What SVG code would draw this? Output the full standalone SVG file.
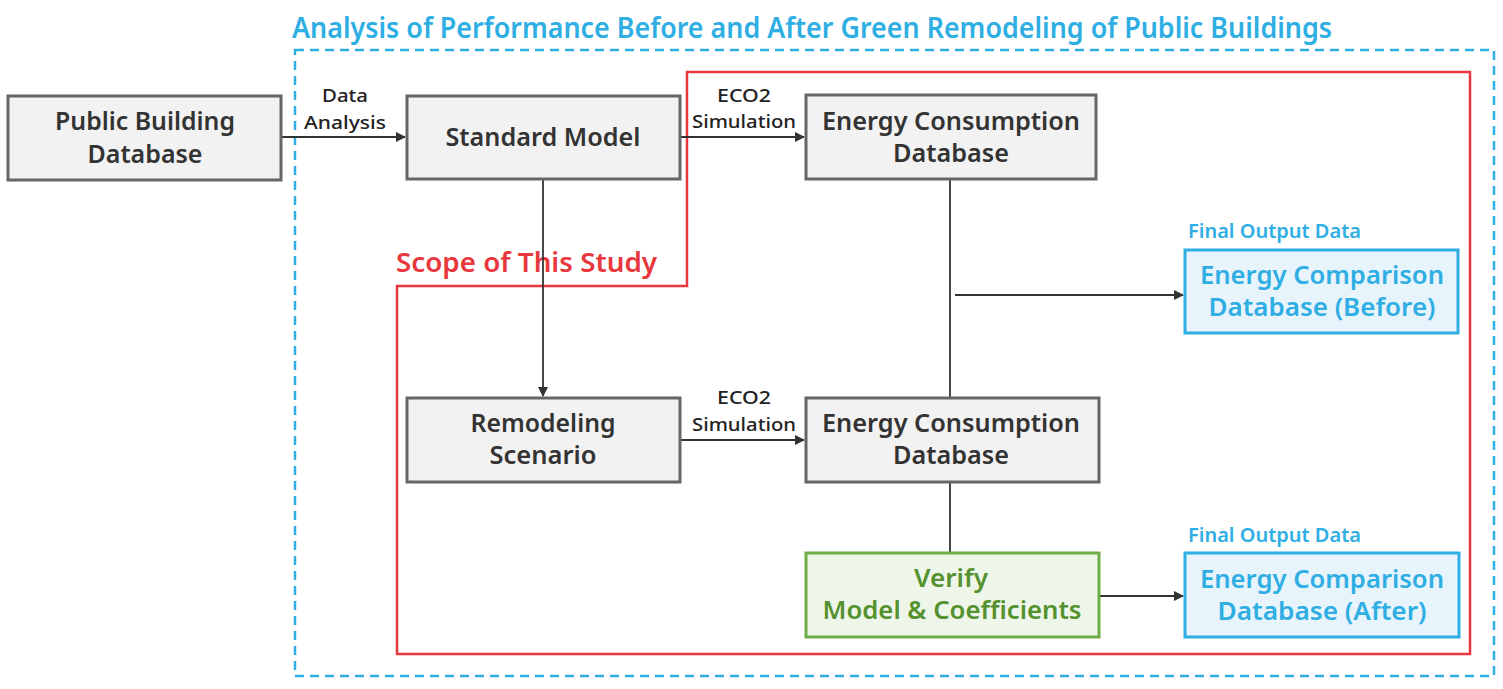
<svg xmlns="http://www.w3.org/2000/svg" width="1503" height="689" viewBox="0 0 1503 689">
<defs>
<marker id="arr" markerWidth="10" markerHeight="10" refX="9" refY="5" orient="auto" markerUnits="userSpaceOnUse">
<path d="M0,0 L10,5 L0,10 Z" fill="#333"/>
</marker>
<style>
text{font-family:"Noto Sans","DejaVu Sans",sans-serif;text-anchor:middle;font-weight:600}
.box{fill:#f2f2f2;stroke:#666;stroke-width:3}
.green{fill:#eef6e9;stroke:#6fac46;stroke-width:3}
.blue{fill:#e8f4fc;stroke:#2eaee3;stroke-width:3}
.t{font-size:25px;fill:#333}
.tg{font-size:25px;fill:#55912e}
.tb{font-size:25px;fill:#2eaee3}
.lbl{font-size:18px;fill:#222;font-weight:500}
.fo{font-size:19px;fill:#2eaee3;text-anchor:start}
.ln{stroke:#333;stroke-width:1.8;fill:none}
</style>
</defs>
<rect width="1503" height="689" fill="#fff"/>
<text x="292" y="38" style="font-size:28px;fill:#2eaee3;text-anchor:start" textLength="1040" lengthAdjust="spacingAndGlyphs">Analysis of Performance Before and After Green Remodeling of Public Buildings</text>
<rect x="295" y="50" width="1199" height="626" fill="none" stroke="#2eaee3" stroke-width="2.5" stroke-dasharray="9,6"/>
<path d="M687,286 L687,72 L1470,72 L1470,654 L397,654 L397,286 Z" fill="none" stroke="#e8383d" stroke-width="2.5"/>
<text x="396" y="272" style="font-size:27px;fill:#e8383d;text-anchor:start" textLength="261" lengthAdjust="spacingAndGlyphs">Scope of This Study</text>

<g id="connectors">
<line class="ln" x1="281" y1="137" x2="405" y2="137" marker-end="url(#arr)"/>
<line class="ln" x1="680" y1="137" x2="804" y2="137" marker-end="url(#arr)"/>
<line class="ln" x1="543" y1="179" x2="543" y2="396" marker-end="url(#arr)"/>
<line class="ln" x1="680" y1="440" x2="804" y2="440" marker-end="url(#arr)"/>
<line class="ln" x1="950" y1="179" x2="950" y2="398"/>
<line class="ln" x1="955" y1="295" x2="1183" y2="295" marker-end="url(#arr)"/>
<line class="ln" x1="950" y1="482" x2="950" y2="553"/>
<line class="ln" x1="1099" y1="596" x2="1183" y2="596" marker-end="url(#arr)"/>
<text class="lbl" x="345" y="102" textLength="46" lengthAdjust="spacingAndGlyphs">Data</text>
<text class="lbl" x="345" y="129" textLength="82" lengthAdjust="spacingAndGlyphs">Analysis</text>
<text class="lbl" x="744" y="102" textLength="54" lengthAdjust="spacingAndGlyphs">ECO2</text>
<text class="lbl" x="744" y="128" textLength="104" lengthAdjust="spacingAndGlyphs">Simulation</text>
<text class="lbl" x="744" y="404" textLength="54" lengthAdjust="spacingAndGlyphs">ECO2</text>
<text class="lbl" x="744" y="431" textLength="104" lengthAdjust="spacingAndGlyphs">Simulation</text>
</g>

<g id="public-building-db">
<rect class="box" x="8" y="96" width="273" height="84"/>
<text class="t" x="145" y="130" textLength="180" lengthAdjust="spacingAndGlyphs">Public Building</text>
<text class="t" x="145" y="163" textLength="115" lengthAdjust="spacingAndGlyphs">Database</text>
</g>
<g id="standard-model">
<rect class="box" x="407" y="96" width="273" height="83"/>
<text class="t" x="543" y="146" textLength="195" lengthAdjust="spacingAndGlyphs">Standard Model</text>
</g>
<g id="energy-db-top">
<rect class="box" x="806" y="95" width="290" height="84"/>
<text class="t" x="951" y="130" textLength="258" lengthAdjust="spacingAndGlyphs">Energy Consumption</text>
<text class="t" x="951" y="162" textLength="116" lengthAdjust="spacingAndGlyphs">Database</text>
</g>
<g id="remodeling-scenario">
<rect class="box" x="407" y="398" width="273" height="84"/>
<text class="t" x="543" y="432" textLength="145" lengthAdjust="spacingAndGlyphs">Remodeling</text>
<text class="t" x="543" y="464" textLength="107" lengthAdjust="spacingAndGlyphs">Scenario</text>
</g>
<g id="energy-db-bottom">
<rect class="box" x="806" y="398" width="293" height="84"/>
<text class="t" x="951" y="432" textLength="258" lengthAdjust="spacingAndGlyphs">Energy Consumption</text>
<text class="t" x="951" y="464" textLength="116" lengthAdjust="spacingAndGlyphs">Database</text>
</g>
<g id="verify">
<rect class="green" x="806" y="553" width="293" height="84"/>
<text class="tg" x="951" y="587" textLength="74" lengthAdjust="spacingAndGlyphs">Verify</text>
<text class="tg" x="952" y="619" textLength="259" lengthAdjust="spacingAndGlyphs">Model &amp; Coefficients</text>
</g>
<g id="comparison-before">
<text class="fo" x="1188" y="238" textLength="173" lengthAdjust="spacingAndGlyphs">Final Output Data</text>
<rect class="blue" x="1185" y="250" width="273" height="83"/>
<text class="tb" x="1322" y="284" textLength="244" lengthAdjust="spacingAndGlyphs">Energy Comparison</text>
<text class="tb" x="1322" y="316" textLength="227" lengthAdjust="spacingAndGlyphs">Database (Before)</text>
</g>
<g id="comparison-after">
<text class="fo" x="1188" y="542" textLength="173" lengthAdjust="spacingAndGlyphs">Final Output Data</text>
<rect class="blue" x="1185" y="553" width="274" height="84"/>
<text class="tb" x="1322" y="588" textLength="244" lengthAdjust="spacingAndGlyphs">Energy Comparison</text>
<text class="tb" x="1322" y="620" textLength="209" lengthAdjust="spacingAndGlyphs">Database (After)</text>
</g>
</svg>
